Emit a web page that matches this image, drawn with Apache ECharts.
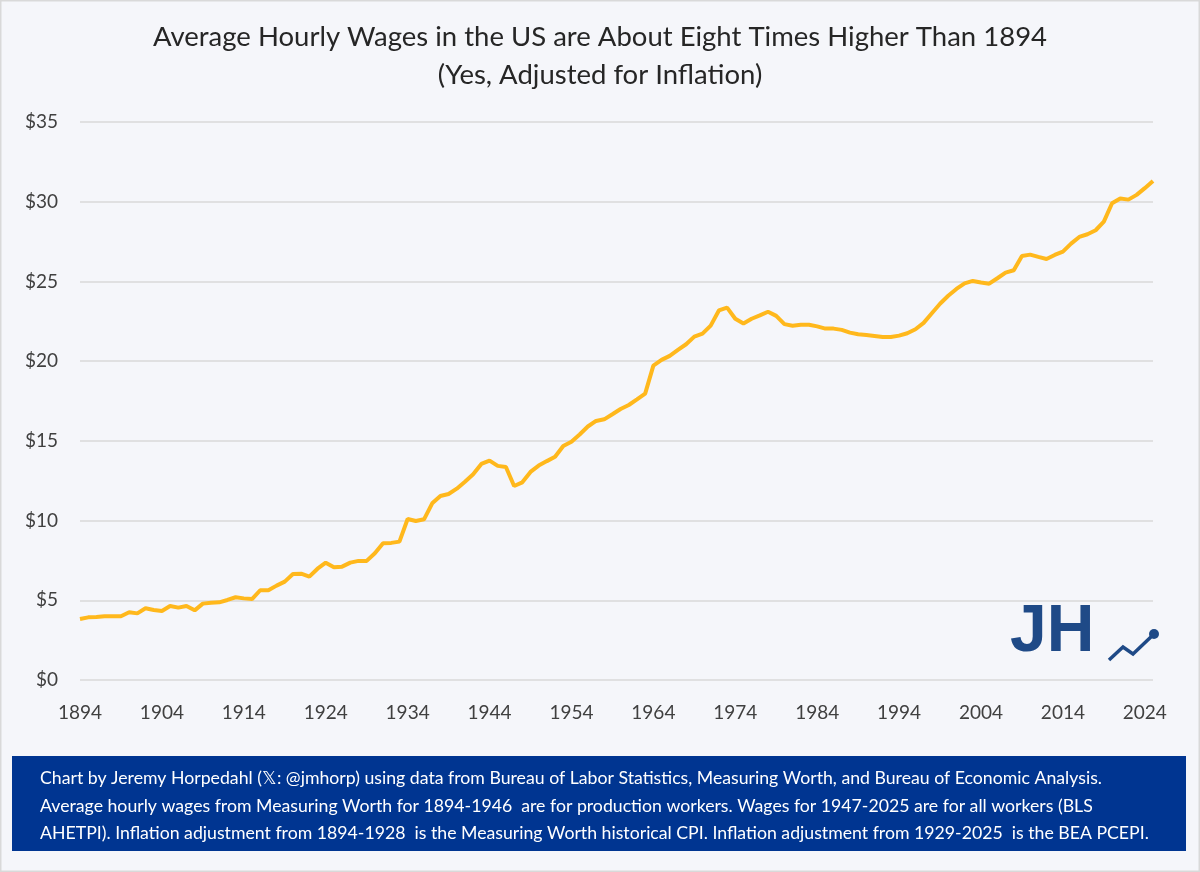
<!DOCTYPE html>
<html>
<head>
<meta charset="utf-8">
<script src="https://cdn.jsdelivr.net/npm/echarts@6/dist/echarts.min.js"></script>
<style>
html,body{margin:0;padding:0;background:#f5f6fa;}
#chart{width:1200px;height:872px;}
</style>
</head>
<body>
<div id="chart"></div>
<script>
const years = [];
for (let y = 1894; y <= 2025; y++) years.push(String(y));

const wages = [
3.83,3.93,3.95,4.0,4.0,4.0,4.25,4.18,4.5,4.39,
4.33,4.64,4.54,4.64,4.37,4.79,4.85,4.87,5.02,5.19,
5.12,5.08,5.63,5.63,5.92,6.17,6.65,6.67,6.48,6.98,
7.36,7.07,7.11,7.36,7.47,7.47,7.95,8.58,8.6,8.68,
10.1,9.97,10.08,11.08,11.54,11.67,12.0,12.44,12.9,13.55,
13.76,13.43,13.36,12.17,12.4,13.05,13.45,13.73,14.0,14.68,
14.95,15.4,15.9,16.25,16.35,16.67,17.0,17.25,17.6,17.96,
19.72,20.08,20.33,20.7,21.06,21.54,21.73,22.23,23.18,23.36,
22.66,22.36,22.66,22.87,23.1,22.84,22.32,22.22,22.28,22.28,
22.18,22.04,22.04,21.96,21.79,21.69,21.64,21.58,21.52,21.52,
21.6,21.75,22.0,22.4,23.0,23.6,24.1,24.53,24.88,25.03,
24.93,24.86,25.2,25.55,25.7,26.6,26.68,26.54,26.41,26.66,
26.87,27.37,27.79,27.96,28.21,28.75,29.9,30.2,30.13,30.43,
30.85,31.3
];

const titleLine1 = "Average Hourly Wages in the US are About Eight Times Higher Than 1894";
const titleLine2 = "(Yes, Adjusted for Inflation)";
const footerLines = [
  "Chart by Jeremy Horpedahl (\u{1D54F}: @jmhorp) using data from Bureau of Labor Statistics, Measuring Worth, and Bureau of Economic Analysis.",
  "Average hourly wages from Measuring Worth for 1894-1946  are for production workers. Wages for 1947-2025 are for all workers (BLS",
  "AHETPI). Inflation adjustment from 1894-1928  is the Measuring Worth historical CPI. Inflation adjustment from 1929-2025  is the BEA PCEPI."
];

const FONT = "Lato, 'Noto Sans', sans-serif";
const chart = echarts.init(document.getElementById('chart'));
chart.setOption({
  backgroundColor: '#f5f6fa',
  animation: false,
  title: {
    text: titleLine1 + "\n" + titleLine2,
    left: 'center',
    top: 13,
    textStyle: {
      fontFamily: FONT, fontSize: 27.5, fontWeight: 'normal', color: '#262626', lineHeight: 38
    }
  },
  grid: { left: 80, right: 47, top: 122, bottom: 192, containLabel: false },
  xAxis: {
    type: 'category',
    data: years,
    boundaryGap: false,
    axisLine: { show: false },
    axisTick: { show: false },
    axisLabel: {
      interval: 9, color: '#404040', fontSize: 19, fontFamily: FONT, margin: 23
    },
    splitLine: { show: false }
  },
  yAxis: {
    type: 'value',
    min: 0, max: 35, interval: 5,
    axisLine: { show: false },
    axisTick: { show: false },
    axisLabel: {
      formatter: v => '$' + v, color: '#404040', fontSize: 19, fontFamily: FONT, margin: 22
    },
    splitLine: { lineStyle: { color: '#d9d9d9', width: 1.5 } }
  },
  series: [{
    type: 'line',
    data: wages,
    showSymbol: false,
    lineStyle: { color: '#ffb81c', width: 4 },
    itemStyle: { color: '#ffb81c' }
  }],
  graphic: [
    { type: 'rect', shape: { x: 0.5, y: 0.5, width: 1199, height: 871 }, style: { fill: 'none', stroke: '#d9d9d9', lineWidth: 2 }, silent: true },
    { type: 'rect', shape: { x: 12, y: 756, width: 1174, height: 95 }, style: { fill: '#003591' } },
    { type: 'text', left: 40, top: 765, style: { text: footerLines.join('\n'), fill: '#ffffff', font: "17.7px " + FONT, lineHeight: 27.5 } },
    { type: 'text', left: 1010, top: 600, style: { text: 'JH', fill: '#1f4a87', font: "bold 66px Arial, 'Liberation Sans', sans-serif" } },
    { type: 'polyline', shape: { points: [[1109,660],[1123,647],[1133,654],[1153,635]] }, style: { stroke: '#1f4a87', lineWidth: 3.5, fill: 'none' } },
    { type: 'circle', shape: { cx: 1154, cy: 634, r: 5 }, style: { fill: '#1f4a87' } }
  ]
});
</script>
</body>
</html>
